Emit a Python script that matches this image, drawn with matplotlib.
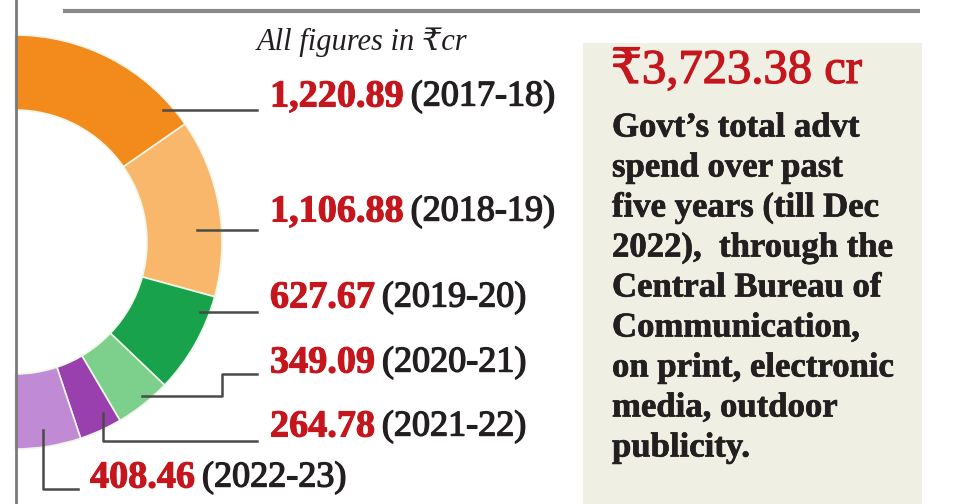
import matplotlib.pyplot as plt
import matplotlib.patheffects as pe
from matplotlib.patches import Rectangle

plt.rcParams['font.family'] = ['Liberation Serif', 'DejaVu Serif']

# data
years = ['2017-18', '2018-19', '2019-20', '2020-21', '2021-22', '2022-23']
spend = [1220.89, 1106.88, 627.67, 349.09, 264.78, 408.46]
colors = ['#f28a1c', '#f8b76a', '#17a24b', '#7dcf8c', '#9a3fae', '#c08ad5']
total_text = '₹3,723.38 cr'
note_lines = ['Govt’s total advt', 'spend over past', 'five years (till Dec',
              '2022),  through the', 'Central Bureau of', 'Communication,',
              'on print, electronic', 'media, outdoor', 'publicity.']

RED = '#c4161c'
INK = '#231f20'
W, H = 957, 504

def heavier(color, lw=0.8):
    return [pe.withStroke(linewidth=lw, foreground=color)]

fig = plt.figure(figsize=(W / 100, H / 100), dpi=100)
ax = fig.add_axes([0, 0, 1, 1])

# half donut: add a hidden wedge equal to the sum so the data fills 180 degrees
vals = spend + [sum(spend)]
wedges, _ = ax.pie(vals, colors=colors + ['none'], startangle=-90, counterclock=True,
                   center=(15, 242), radius=207,
                   wedgeprops=dict(width=75, edgecolor='#eef6e8', linewidth=1.2))
wedges[-1].set_edgecolor('none')

ax.set_xlim(0, W)
ax.set_ylim(H, 0)
ax.set_aspect('equal')
ax.axis('off')

# frame lines
ax.plot([15.5, 15.5], [0, H], color='#7a7a7a', lw=2, zorder=5)
ax.plot([63, 920], [11, 11], color='#8a8a8a', lw=3, solid_capstyle='butt')

# right note box
ax.add_patch(Rectangle((583, 43), 339, H - 43, facecolor='#efefe4', edgecolor='none', zorder=0))
ax.text(611, 71, total_text, color=RED, fontsize=35, va='center', ha='left',
        path_effects=heavier(RED, 0.9))
for i, line in enumerate(note_lines):
    ax.text(612, 128 + 40 * i, line, color=INK, fontsize=25, fontweight='bold',
            va='center', ha='left', path_effects=heavier(INK, 0.5))

ax.text(257, 42, 'All figures in ₹cr', color=INK, fontsize=22, style='italic',
        va='center', ha='left')

# leader lines (pixel layout)
leaders = [
    [(163, 110), (257, 110)],
    [(197, 230), (257, 230)],
    [(200, 312), (257, 312)],
    [(142, 396), (222, 396), (222, 374), (257, 374)],
    [(103, 413), (103, 441), (257, 441)],
    [(43, 430), (43, 489), (78, 489)],
]
for pts in leaders:
    xs, ys = zip(*pts)
    ax.plot(xs, ys, color='#4a4a4a', lw=1.8, zorder=4)

label_pos = [(270, 97), (270, 212), (270, 298), (270, 363), (270, 427), (90, 478)]
fig.canvas.draw()
renderer = fig.canvas.get_renderer()
for (x, y), v, yr in zip(label_pos, spend, years):
    t = ax.text(x, y, f'{v:,.2f}', color=RED, fontsize=27.5, fontweight='bold',
                va='center', ha='left', path_effects=heavier(RED, 0.8))
    bb = t.get_window_extent(renderer)
    x_end = ax.transData.inverted().transform((bb.x1, bb.y0))[0]
    ax.text(x_end + 7, y, f'({yr})', color=INK, fontsize=26, va='center', ha='left',
            path_effects=heavier(INK, 1.0))

fig.savefig('out.png', dpi=100)
